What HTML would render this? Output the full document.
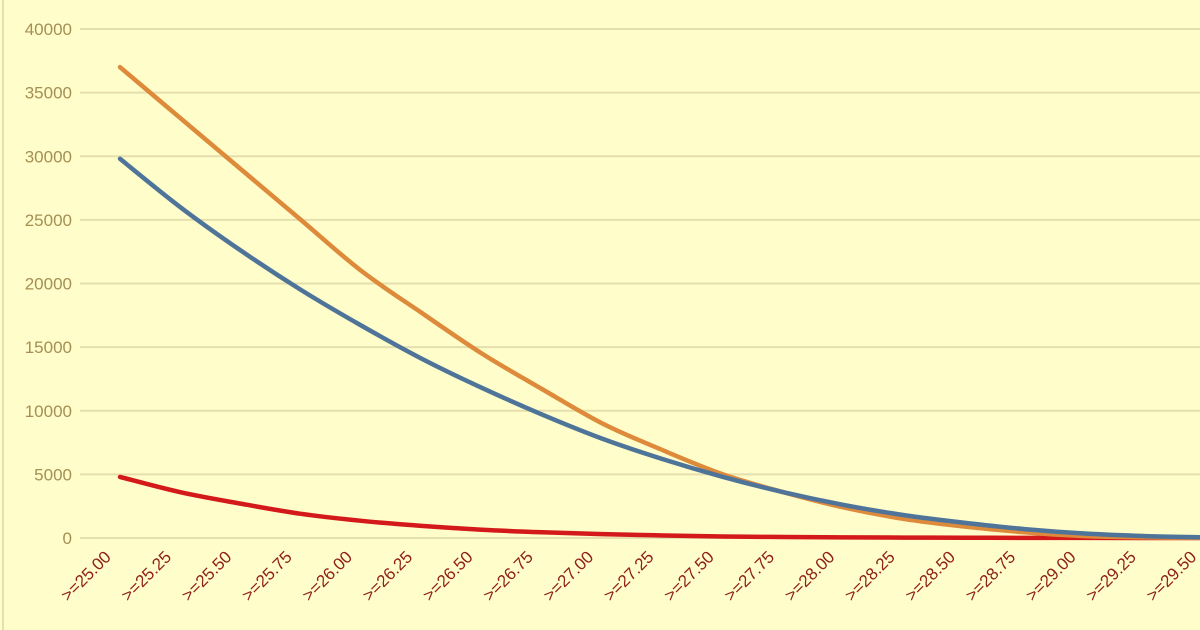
<!DOCTYPE html>
<html><head><meta charset="utf-8"><style>
html,body{margin:0;padding:0;background:#fffdc9;}
svg{display:block;}
</style></head><body>
<svg id="chart" width="1200" height="630" xmlns="http://www.w3.org/2000/svg">
<rect x="0" y="0" width="1200" height="630" fill="#fffdc9"/>
<line x1="3" y1="0" x2="3" y2="630" stroke="#e6dfb0" stroke-width="2"/>
<g id="grid"></g><g id="ylabels"></g><g id="xlabels"></g><g id="series"></g>
</svg>
<script>
const categories=[">=25.00",">=25.25",">=25.50",">=25.75",">=26.00",">=26.25",">=26.50",">=26.75",">=27.00",">=27.25",">=27.50",">=27.75",">=28.00",">=28.25",">=28.50",">=28.75",">=29.00",">=29.25",">=29.50"];
const seriesOrange=[37000,33000,29000,25000,21000,17700,14500,11700,9000,6900,5000,3600,2400,1500,900,450,150,50,20];
const seriesBlue=[29800,26000,22600,19500,16700,14100,11800,9700,7800,6200,4800,3600,2600,1800,1200,700,350,150,50];
const seriesRed=[4800,3600,2700,1900,1350,950,650,450,300,200,120,80,50,30,20,10,5,2,1];
const yTicks=[0,5000,10000,15000,20000,25000,30000,35000,40000];
const NS="http://www.w3.org/2000/svg";
const x0=120,dx=60.3,yZero=538,yTop=29,yMax=40000;
function xs(i){return x0+i*dx;}
function ys(v){return yZero-(v/yMax)*(yZero-yTop);}
function mk(t,a,p){const e=document.createElementNS(NS,t);for(const k in a)e.setAttribute(k,a[k]);p.appendChild(e);return e;}
const grid=document.getElementById('grid'),yl=document.getElementById('ylabels'),xl=document.getElementById('xlabels'),sg=document.getElementById('series');
yTicks.forEach(v=>{
  const l=mk('line',{x1:80,x2:1200,y1:ys(v),y2:ys(v),stroke:'#e5dfae','stroke-width':2},grid);
  
  
  const t=mk('text',{x:72,y:ys(v)+6,'text-anchor':'end','font-family':'Liberation Sans, sans-serif','font-size':17,fill:'#a58f55'},yl);
  t.textContent=v;
  
  
});
categories.forEach((c,i)=>{
  const x=xs(i)-8,y=558;
  const t=mk('text',{x:x,y:y,'text-anchor':'end','font-family':'Liberation Sans, sans-serif','font-size':17,fill:'#8e1f1a',transform:`rotate(-45 ${x} ${y})`},xl);
  t.textContent=c;
  
  
});
function pathFor(vals){
  const p=vals.map((v,i)=>[xs(i),ys(v)]);
  let d=`M${p[0][0]},${p[0][1]}`;
  for(let i=0;i<p.length-1;i++){
    const p0=p[Math.max(0,i-1)],p1=p[i],p2=p[i+1],p3=p[Math.min(p.length-1,i+2)];
    const c1=[p1[0]+(p2[0]-p0[0])/6,p1[1]+(p2[1]-p0[1])/6];
    const c2=[p2[0]-(p3[0]-p1[0])/6,p2[1]-(p3[1]-p1[1])/6];
    d+=` C${c1[0]},${c1[1]} ${c2[0]},${c2[1]} ${p2[0]},${p2[1]}`;
  }
  return d;
}
[[seriesRed,'#d3191a','series-red-line'],[seriesOrange,'#dd8a3b','series-orange-line'],[seriesBlue,'#4f7499','series-blue-line']].forEach(s=>{
  const e=mk('path',{d:pathFor(s[0]),fill:'none',stroke:s[1],'stroke-width':4.5,'stroke-linecap':'round','stroke-linejoin':'round'},sg);
  
  
});
</script>
</body></html>
